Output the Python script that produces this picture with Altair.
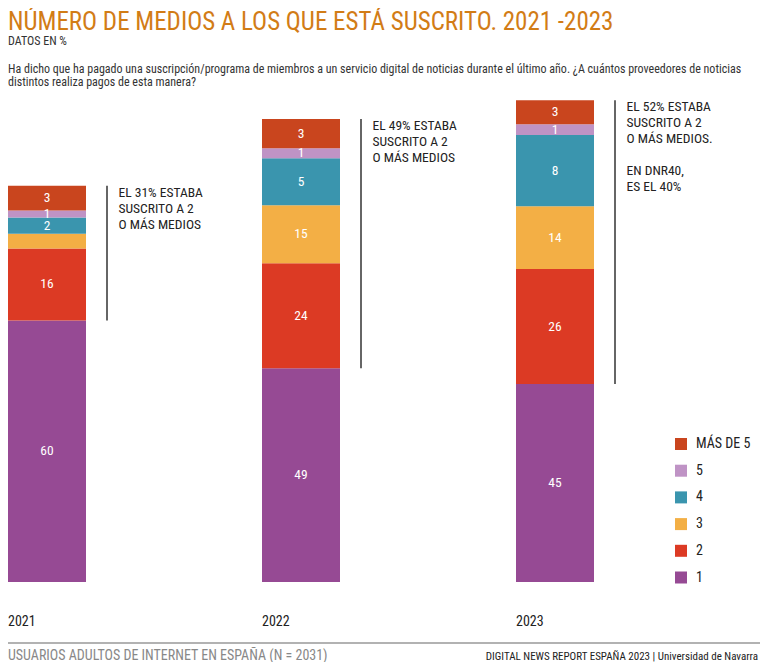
import altair as alt
import pandas as pd

# ---------------- data ----------------
anios = [2021, 2022, 2023]
categorias = ["1", "2", "3", "4", "5", "MÁS DE 5"]          # bottom -> top
# segment heights as drawn (in %)
alturas_2021 = [60, 16.5, 3.4, 3.7, 1.6, 5.7]
alturas_2022 = [49, 24.1, 13.3, 10.8, 2.3, 6.7]
alturas_2023 = [45.4, 26.4, 14.4, 16.3, 2.5, 5.5]
# printed labels
etiquetas_2021 = ["60", "16", "", "2", "1", "3"]
etiquetas_2022 = ["49", "24", "15", "5", "1", "3"]
etiquetas_2023 = ["45", "26", "14", "8", "1", "3"]
colores = ["#964A94", "#DC3A24", "#F3AF45", "#3A95AE", "#BF93C5", "#C9451E"]
notas = [
    "EL 31% ESTABA\nSUSCRITO A 2\nO MÁS MEDIOS",
    "EL 49% ESTABA\nSUSCRITO A 2\nO MÁS MEDIOS",
    "EL 52% ESTABA\nSUSCRITO A 2\nO MÁS MEDIOS.",
]
notas_extra = ["", "", "EN DNR40,\nES EL 40%"]
titulo = "NÚMERO DE MEDIOS A LOS QUE ESTÁ SUSCRITO. 2021 -2023"
subtitulo = "DATOS EN %"
pregunta = [
    "Ha dicho que ha pagado una suscripción/programa de miembros a un servicio digital de noticias durante el último año. ¿A cuántos proveedores de noticias",
    "distintos realiza pagos de esta manera?",
]
pie_izq = "USUARIOS ADULTOS DE INTERNET EN ESPAÑA (N = 2031)"
pie_der = "DIGITAL NEWS REPORT ESPAÑA 2023 | Universidad de Navarra"

FONT = "Roboto Condensed, Liberation Sans Narrow, DejaVu Sans Condensed, sans-serif"

rows = []
for anio, alts, labs in zip(anios, [alturas_2021, alturas_2022, alturas_2023],
                            [etiquetas_2021, etiquetas_2022, etiquetas_2023]):
    for i, (cat, h, lab) in enumerate(zip(categorias, alts, labs)):
        rows.append(dict(anio=anio, categoria=cat, orden=i, valor=h, etiqueta=lab))
df = pd.DataFrame(rows)

df_notas = pd.DataFrame({
    "anio": anios,
    "total": [sum(a) for a in [alturas_2021, alturas_2022, alturas_2023]],
    "base": [a[0] for a in [alturas_2021, alturas_2022, alturas_2023]],
    "nota": notas,
    "nota_extra": notas_extra,
    "anio_txt": [str(a) for a in anios],
})

# ---------------- layout ----------------
W, H = 752, 574
PX_UNIT = 4.36
STEP = 254.0
X0 = 39.0
LH = 16
x_scale = alt.Scale(domain=[2021 - X0 / STEP, 2021 + (W - X0) / STEP],
                    nice=False, zero=False, padding=0)
y_scale = alt.Scale(domain=[0, H / PX_UNIT], nice=False, zero=False, padding=0)

leg_domain = categorias[::-1]
leg_range = colores[::-1]

base = alt.Chart(df).transform_stack(
    stack="valor", groupby=["anio"], as_=["y0", "y1"],
    sort=[alt.SortField("orden", order="ascending")],
)

bars = base.mark_bar(size=78).encode(
    x=alt.X("anio:Q", scale=x_scale, axis=None),
    y=alt.Y("y0:Q", scale=y_scale, axis=None),
    y2="y1:Q",
    color=alt.Color(
        "categoria:N",
        scale=alt.Scale(domain=leg_domain, range=leg_range),
        sort=leg_domain,
        legend=alt.Legend(
            orient="none", legendX=666, legendY=429, title=None,
            symbolType="square", symbolSize=144, symbolStrokeWidth=0,
            symbolOpacity=1,
            labelFont=FONT, labelFontSize=14, labelColor="#222",
            rowPadding=12.7, labelOffset=8, padding=0,
        ),
    ),
)

seg_labels = base.transform_calculate(ym="(datum.y0 + datum.y1) / 2").mark_text(
    color="white", font=FONT, fontSize=13.5, baseline="middle"
).encode(
    x=alt.X("anio:Q", scale=x_scale),
    y=alt.Y("ym:Q", scale=y_scale),
    text="etiqueta:N",
)

nb = alt.Chart(df_notas)
rules = nb.transform_calculate(xr=f"datum.anio + {60 / STEP}").mark_rule(
    color="#333", strokeWidth=1.5
).encode(
    x=alt.X("xr:Q", scale=x_scale),
    y=alt.Y("total:Q", scale=y_scale),
    y2="base:Q",
)
note_text = nb.transform_calculate(xt=f"datum.anio + {71.5 / STEP}").mark_text(
    align="left", baseline="top", font=FONT, fontSize=13.5, color="#222",
    lineHeight=LH, lineBreak="\n", dy=0,
).encode(
    x=alt.X("xt:Q", scale=x_scale),
    y=alt.Y("total:Q", scale=y_scale),
    text="nota:N",
)
note_extra = nb.transform_calculate(xt=f"datum.anio + {71.5 / STEP}").mark_text(
    align="left", baseline="top", font=FONT, fontSize=13.5, color="#222",
    lineHeight=LH, lineBreak="\n", dy=4 * LH,
).encode(
    x=alt.X("xt:Q", scale=x_scale),
    y=alt.Y("total:Q", scale=y_scale),
    text="nota_extra:N",
)
year_text = nb.transform_calculate(xl=f"datum.anio - {X0 / STEP}").mark_text(
    align="left", baseline="alphabetic", font=FONT, fontSize=14, color="#222",
).encode(
    x=alt.X("xl:Q", scale=x_scale),
    y=alt.value(618),
    text="anio_txt:N",
)

one = pd.DataFrame({"k": [0]})


def static(txt, x, y, size, color, align="left"):
    return alt.Chart(one).mark_text(
        text=txt, align=align, baseline="alphabetic", font=FONT, fontSize=size, color=color,
    ).encode(x=alt.value(x), y=alt.value(y))


t_title = static(titulo, 0, 21.5, 25, "#D27C16")
t_sub = static(subtitulo, 0, 37, 12, "#333")
t_q1 = static(pregunta[0], 0, 65, 12, "#333")
t_q2 = static(pregunta[1], 0, 78, 12, "#333")
t_pl = static(pie_izq, 0, 652, 14, "#888")
t_pr = static(pie_der, 750, 652, 11, "#222", align="right")
foot_rule = alt.Chart(one).mark_rule(color="#999", strokeWidth=1.5).encode(
    x=alt.value(0), x2=alt.value(W), y=alt.value(635)
)

chart = alt.layer(
    bars, seg_labels, rules, note_text, note_extra, year_text,
    t_title, t_sub, t_q1, t_q2, t_pl, t_pr, foot_rule,
).properties(
    width=W, height=H,
    padding={"left": 0, "top": 0, "right": 0, "bottom": 80},
    autosize=alt.AutoSizeParams(type="none"),
).configure_view(stroke=None)

chart.save("out.html", embed_options={"renderer": "svg", "actions": False})
